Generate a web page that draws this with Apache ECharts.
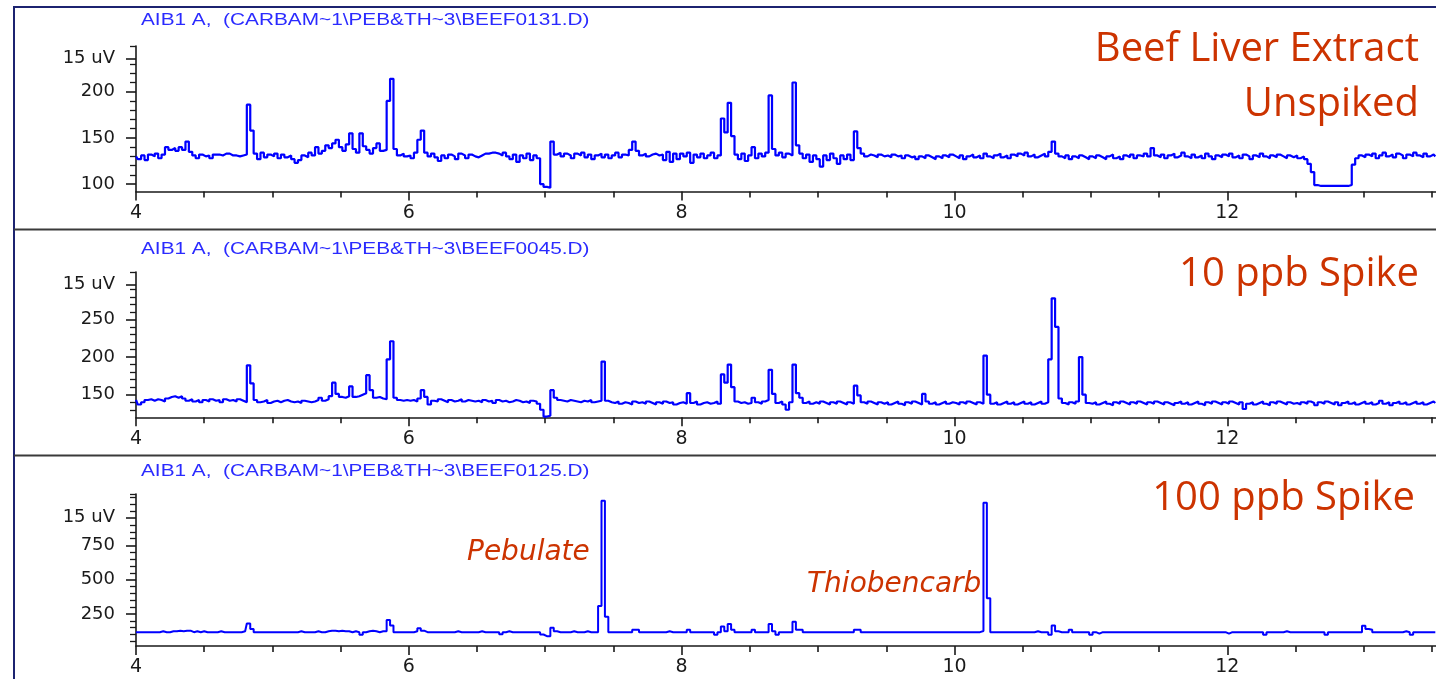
<!DOCTYPE html>
<html><head><meta charset="utf-8">
<script src="https://cdn.jsdelivr.net/npm/echarts@6.0.0/dist/echarts.min.js"></script>
<style>html,body{margin:0;padding:0;background:#fff;overflow:hidden}#c{width:1436px;height:679px}</style>
</head><body><div id="c"></div>
<script>
// ---- data ----
const T0 = 4.0, DT = 0.025;            // sample grid of the chromatograms (min)
const xLabels = [4, 6, 8, 10, 12];
const xMinor = [4.5, 5, 5.5, 6.5, 7, 7.5, 8.5, 9, 9.5, 10.5, 11, 11.5, 12.5, 13, 13.5];
const headers = ['AIB1 A,  (CARBAM~1\\PEB&TH~3\\BEEF0131.D)', 'AIB1 A,  (CARBAM~1\\PEB&TH~3\\BEEF0045.D)', 'AIB1 A,  (CARBAM~1\\PEB&TH~3\\BEEF0125.D)'];
const sampleNames = [['Beef Liver Extract', 'Unspiked'], ['10 ppb Spike'], ['100 ppb Spike']];
const peakNames = ['Pebulate', 'Thiobencarb'];
const unitLabel = '15 uV';

const unspiked = [
130,127,131,126,132,130,133,128,132,140,137,139,136,140,137,146,135,131,128,132,
130,131,128,132,132,131,133,133,131,131,130,131,132,186,158,133,127,134,129,132,
130,133,128,132,129,131,127,123,126,131,129,134,131,140,133,136,142,139,144,148,
140,136,143,155,138,134,155,141,137,133,139,144,136,137,190,214,138,131,133,130,
131,128,134,148,158,134,130,133,129,125,131,128,132,130,127,133,131,128,132,130,
129,131,133,133,134,134,133,131,134,130,127,132,124,131,128,133,126,131,128,100,
97,96,146,132,134,130,133,131,128,133,131,134,129,132,127,131,133,129,132,128,
131,134,129,132,131,137,146,136,131,133,130,132,133,131,132,126,135,124,133,127,
133,130,134,123,132,129,133,128,131,134,128,131,171,156,188,152,132,127,133,125,
131,140,128,133,130,134,196,138,131,134,129,133,131,210,142,133,128,132,124,131,
127,119,131,126,133,128,122,131,127,132,126,157,139,133,130,132,131,129,132,130,
131,129,132,130,131,128,131,129,130,127,130,128,131,129,127,130,128,131,129,132,
130,128,131,127,130,132,129,131,128,133,130,128,131,133,129,131,128,132,130,133,
131,134,130,132,129,131,133,130,135,146,133,130,128,131,127,130,128,131,129,127,
130,128,131,129,127,130,132,128,130,127,131,129,132,128,131,130,133,130,139,131,
129,132,128,131,133,129,131,134,130,128,132,129,131,128,133,130,127,131,129,132,
130,133,129,131,128,132,130,127,131,129,133,130,128,131,129,132,130,128,131,129,
131,128,130,127,122,113,99,98,98,98,98,98,98,98,98,98,99,121,128,131,
129,132,130,133,128,131,134,130,132,129,133,131,128,132,130,134,131,129,133,130,
132,130];

const spike10 = [
143,137,140,143,144,142,144,143,141,145,147,148,146,148,145,142,144,141,143,140,
143,141,144,142,143,140,144,142,143,141,144,142,140,189,165,143,140,141,143,139,
141,142,140,142,143,141,140,141,139,142,141,140,141,143,146,142,144,148,166,151,
147,146,148,161,147,148,150,152,176,156,146,147,145,144,197,221,146,143,142,143,
142,143,141,145,156,147,137,142,141,144,142,140,143,141,142,144,141,143,142,141,
142,140,143,141,142,139,143,141,142,140,141,143,142,140,141,139,142,141,138,130,
121,122,156,146,143,142,141,143,142,141,140,142,141,143,140,141,142,194,142,140,
139,141,138,140,139,137,141,139,140,138,141,139,137,140,138,141,139,140,137,139,
140,138,152,139,141,137,139,140,138,139,141,138,177,166,190,160,141,139,140,138,
139,146,140,138,141,143,183,151,139,141,137,130,140,190,152,146,139,141,138,140,
138,141,139,137,140,138,141,139,137,140,138,162,149,140,138,141,139,137,140,138,
140,137,139,141,138,136,140,138,141,139,137,151,141,138,140,137,139,141,138,140,
139,137,140,138,141,139,137,140,138,202,150,138,140,137,139,141,138,140,137,139,
141,138,140,137,139,141,138,140,197,278,240,145,139,137,140,138,141,200,150,139,
138,140,137,139,141,138,136,140,138,141,139,137,140,138,141,139,137,140,138,141,
139,137,140,138,136,139,141,138,140,137,139,141,138,136,140,138,141,139,137,140,
138,141,139,137,140,131,138,140,137,139,141,138,136,140,138,141,139,137,140,138,
139,137,140,138,141,139,136,140,138,141,139,137,140,136,139,141,138,140,137,139,
141,138,140,137,139,142,138,140,136,139,141,138,140,137,139,141,138,140,137,139,
141,139];

const spike100 = [
117,117,117,117,117,117,117,117,124,117,117,124,124,128,124,128,128,117,124,117,
124,117,117,117,117,124,117,117,117,117,117,117,124,180,140,117,117,117,117,117,
117,117,117,117,117,117,117,117,124,117,117,117,117,124,117,117,124,128,128,124,
128,124,124,117,124,117,98,117,124,128,124,117,124,124,206,165,117,117,117,117,
117,117,124,146,128,117,117,117,117,117,117,117,117,117,124,117,117,117,117,117,
117,124,117,117,117,117,117,102,117,124,117,117,117,117,117,117,117,117,117,100,
88,88,150,124,117,117,117,117,124,117,117,117,124,117,117,117,308,1076,230,117,
117,117,117,117,117,117,134,134,117,117,117,117,117,117,117,117,124,117,117,117,
117,117,134,117,117,117,117,117,117,117,98,117,158,124,177,134,117,117,117,117,
117,134,117,117,117,117,177,124,98,117,117,117,117,194,134,134,117,117,117,117,
117,117,117,117,117,117,117,117,117,117,117,134,134,117,117,117,117,117,117,117,
117,117,117,117,117,117,117,117,117,117,117,117,117,117,117,117,117,117,117,117,
117,117,117,117,117,117,117,117,125,1063,364,117,117,117,117,117,117,117,117,117,
117,117,117,117,124,117,117,117,98,165,124,117,117,117,134,117,117,117,117,117,
98,117,106,117,117,117,117,117,117,117,117,117,117,117,117,117,117,117,117,117,
117,117,117,117,117,117,117,117,117,117,117,117,117,117,117,117,117,117,117,117,
106,117,117,117,117,117,117,117,117,117,117,98,117,117,117,117,117,124,117,117,
117,117,117,117,117,117,117,117,117,98,117,117,117,117,117,117,117,117,117,117,
163,140,134,117,117,117,117,117,117,117,117,117,124,117,98,117,117,117,117,117,
117,117];

// y-axis ranges and ticks per panel
const yMin = [92, 120, 16];
const yMax = [249.5, 313, 1126];
const yMajor = [[100, 150, 200], [150, 200, 250], [250, 500, 750]];
const yUnitAt = [236, 296, 955];
const yMinor = [
  [110, 120, 130, 140, 160, 170, 180, 190, 210, 220, 230, 249.5],
  [130, 140, 160, 170, 180, 190, 210, 220, 230, 240, 260, 270, 280, 290, 313],
  [50, 100, 150, 200, 300, 350, 400, 450, 550, 600, 650, 700, 800, 850, 900, 1000, 1050, 1100, 1126]
];

// ---- build ----
const traces = [unspiked, spike10, spike100];
const toPairs = vals => vals.map((v, i) => [+(T0 + i * DT).toFixed(3), v]);

const gridPos = [{ top: 46, height: 145.5 }, { top: 272, height: 145.3 }, { top: 494, height: 152 }];
const headerY = [20.5, 250, 472];
const lineW = [2.2, 2.2, 2];
const axisColor = '#1a1a1a';
const option = { animation: false, backgroundColor: '#ffffff', grid: [], xAxis: [], yAxis: [], series: [], graphic: [] };

traces.forEach((vals, i) => {
  option.grid.push({ left: 136, right: 0, top: gridPos[i].top, height: gridPos[i].height, containLabel: false, outerBoundsMode: 'none' });
  option.xAxis.push({
    type: 'value', gridIndex: i, position: 'bottom', min: 4, max: 13.53,
    axisLine: { onZero: false, lineStyle: { color: axisColor, width: 1.6 } },
    axisTick: { customValues: xLabels, length: 9, lineStyle: { color: axisColor, width: 1.6 } },
    axisLabel: { customValues: xLabels, fontFamily: 'DejaVu Sans', fontSize: 19, color: axisColor, margin: 12 },
    splitLine: { show: false }
  });
  option.xAxis.push({
    type: 'value', gridIndex: i, position: 'bottom', min: 4, max: 13.53,
    axisLine: { show: false, onZero: false },
    axisTick: { customValues: xMinor, length: 6, lineStyle: { color: axisColor, width: 1.6 } },
    axisLabel: { show: false }, splitLine: { show: false }
  });
  const majors = yMajor[i].concat([yUnitAt[i]]);
  const unit = yUnitAt[i];
  option.yAxis.push({
    type: 'value', gridIndex: i, position: 'left', min: yMin[i], max: yMax[i],
    axisLine: { show: true, onZero: false, lineStyle: { color: axisColor, width: 1.6 } },
    axisTick: { show: true, customValues: majors, length: 10, lineStyle: { color: axisColor, width: 1.6 } },
    axisLabel: { customValues: majors, fontFamily: 'DejaVu Sans', fontSize: 18, color: axisColor, margin: 21,
      formatter: v => (Math.abs(v - unit) < 1e-6 ? unitLabel : String(v)) },
    splitLine: { show: false }
  });
  option.yAxis.push({
    type: 'value', gridIndex: i, position: 'left', min: yMin[i], max: yMax[i],
    axisLine: { show: false, onZero: false },
    axisTick: { show: true, customValues: yMinor[i], length: 6, lineStyle: { color: axisColor, width: 1.3 } },
    axisLabel: { show: false }, splitLine: { show: false }
  });
  option.series.push({
    type: 'line', xAxisIndex: 2 * i, yAxisIndex: 2 * i, data: toPairs(vals), step: 'middle',
    showSymbol: false, symbol: 'none', silent: true, clip: true,
    lineStyle: { color: '#0000ff', width: lineW[i] }
  });
  option.graphic.push({
    type: 'text', x: 141, y: headerY[i], scaleX: 1.3, silent: true,
    style: { text: headers[i], fontFamily: 'Liberation Sans', fontSize: 16, fill: '#2a2aff',
      align: 'left', verticalAlign: 'middle', textAlign: 'left', textVerticalAlign: 'middle' }
  });
});

// frame lines
const navy = '#1c2370';
option.graphic.push(
  { type: 'line', silent: true, shape: { x1: 14, y1: 7, x2: 1436, y2: 7 }, style: { stroke: navy, lineWidth: 2 } },
  { type: 'line', silent: true, shape: { x1: 14, y1: 6, x2: 14, y2: 679 }, style: { stroke: navy, lineWidth: 2 } },
  { type: 'line', silent: true, shape: { x1: 14, y1: 229.5, x2: 1436, y2: 229.5 }, style: { stroke: '#3a3a3a', lineWidth: 2 } },
  { type: 'line', silent: true, shape: { x1: 14, y1: 455.5, x2: 1436, y2: 455.5 }, style: { stroke: '#3a3a3a', lineWidth: 2 } }
);

// sample name labels (right aligned)
const red = '#cc3300';
const nameSpots = [[1419, 50], [1419, 105], [1419, 275], [1415, 499]];
const nameTexts = [sampleNames[0][0], sampleNames[0][1], sampleNames[1][0], sampleNames[2][0]];
nameTexts.forEach((t, k) => option.graphic.push({
  type: 'text', x: nameSpots[k][0], y: nameSpots[k][1], silent: true,
  style: { text: t, fontFamily: 'Open Sans', fontSize: 40, fill: red,
    align: 'right', verticalAlign: 'middle', textAlign: 'right', textVerticalAlign: 'middle' }
}));
// peak names
const peakSpots = [[467, 553], [807, 585]];
peakNames.forEach((t, k) => option.graphic.push({
  type: 'text', x: peakSpots[k][0], y: peakSpots[k][1], silent: true,
  style: { text: t, fontFamily: 'DejaVu Sans', fontStyle: 'oblique', fontSize: 28, fill: red,
    align: 'left', verticalAlign: 'middle', textAlign: 'left', textVerticalAlign: 'middle' }
}));

const chart = echarts.init(document.getElementById('c'), null, { renderer: 'canvas' });
chart.setOption(option);
</script>
</body></html>
